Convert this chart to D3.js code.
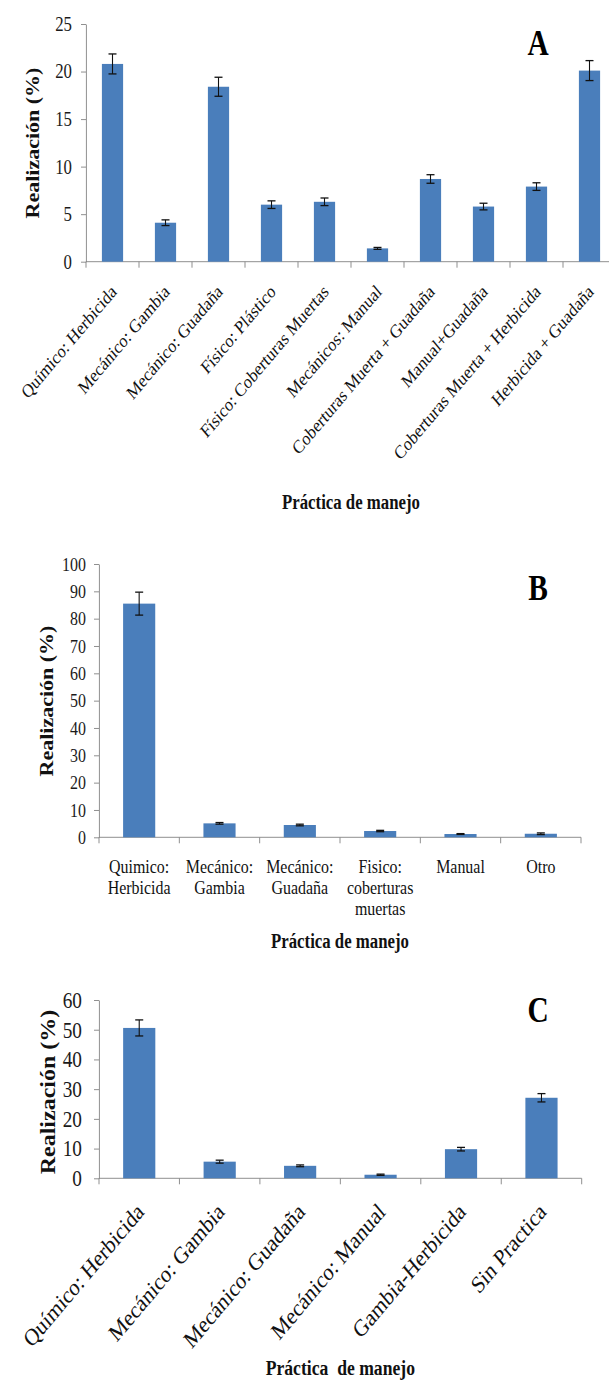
<!DOCTYPE html>
<html>
<head>
<meta charset="utf-8">
<script src="https://cdn.jsdelivr.net/npm/d3@7"></script>
<style>
  body { margin: 0; background: #fff; }
  svg { display: block; }
</style>
</head>
<body>
<svg id="chart" width="609" height="1385"></svg>
<script>
// ---- data ----
var catsA = ["Químico: Herbicida", "Mecánico: Gambia", "Mecánico: Guadaña", "Físico: Plástico",
  "Físico: Coberturas Muertas", "Mecánicos: Manual", "Coberturas Muerta + Guadaña",
  "Manual+Guadaña", "Coberturas Muerta + Herbicida", "Herbicida + Guadaña"];
var valsA = [20.8, 4.1, 18.4, 6.0, 6.3, 1.4, 8.7, 5.8, 7.9, 20.1];
var errA = [1.05, 0.3, 1.0, 0.4, 0.4, 0.1, 0.45, 0.35, 0.4, 1.05];
var ticksA = [0, 5, 10, 15, 20, 25];

var catsB = ["Quimico:\nHerbicida", "Mecánico:\nGambia", "Mecánico:\nGuadaña",
  "Fisico:\ncoberturas\nmuertas", "Manual", "Otro"];
var valsB = [85.5, 5.1, 4.5, 2.3, 1.2, 1.3];
var errB = [4.2, 0.3, 0.3, 0.25, 0.15, 0.3];
var ticksB = [0, 10, 20, 30, 40, 50, 60, 70, 80, 90, 100];

var catsC = ["Químico: Herbicida", "Mecánico: Gambia", "Mecánico: Guadaña",
  "Mecánico: Manual", "Gambia-Herbicida", "Sin Practica"];
var valsC = [50.6, 5.6, 4.2, 1.2, 9.8, 27.1];
var errC = [2.7, 0.5, 0.3, 0.2, 0.6, 1.4];
var ticksC = [0, 10, 20, 30, 40, 50, 60];

// ---- drawing ----
var SX = 0.84;              // the figure is squeezed horizontally
var SERIF = "'Liberation Serif', 'Times New Roman', serif";
var BLUE = '#4a7ebb', GREY = '#868686';

var svg = d3.select('#chart');
var root = svg.append('g').attr('transform', 'scale(' + SX + ',1)');
function ux(v) { return v / SX; }   // page px -> inner px

function panel(p) {
  var g = root.append('g');
  var x = d3.scaleBand().domain(d3.range(p.cats.length)).range([ux(p.left), ux(p.right)]);
  var y = d3.scaleLinear().domain([0, p.max]).range([p.y0, p.yTop]);

  // y axis
  var ga = g.append('g')
    .attr('transform', 'translate(' + ux(p.left) + ',0)')
    .call(d3.axisLeft(y).tickValues(p.ticks).tickSize(ux(5)).tickPadding(ux(p.pad)).tickSizeOuter(0));
  ga.attr('font-family', SERIF).attr('font-size', p.tickFont);
  ga.select('.domain').attr('stroke', GREY);
  ga.selectAll('.tick line').attr('stroke', GREY);
  ga.selectAll('.tick text').attr('fill', '#1a1a1a');

  // x axis line + ticks between categories
  g.append('line')
    .attr('x1', x.range()[0]).attr('x2', x.range()[1])
    .attr('y1', p.y0).attr('y2', p.y0)
    .attr('stroke', GREY);
  var bounds = x.domain().map(function (d) { return x(d); }).concat([x.range()[1]]);
  g.selectAll('.xt').data(bounds).enter().append('line')
    .attr('x1', function (d) { return d; }).attr('x2', function (d) { return d; })
    .attr('y1', p.y0).attr('y2', p.y0 + 6)
    .attr('stroke', GREY);

  // bars
  var bw = x.bandwidth() * 0.4;
  g.selectAll('.bar').data(p.vals).enter().append('rect')
    .attr('x', function (d, i) { return x(i) + (x.bandwidth() - bw) / 2; })
    .attr('y', function (d) { return y(d); })
    .attr('width', bw)
    .attr('height', function (d) { return y(0) - y(d); })
    .attr('fill', BLUE);

  // error bars
  var cap = ux(4);
  var eb = g.selectAll('.err').data(p.vals).enter().append('g')
    .attr('stroke', '#111').attr('stroke-width', 1.3);
  eb.append('line')
    .attr('x1', function (d, i) { return x(i) + x.bandwidth() / 2; })
    .attr('x2', function (d, i) { return x(i) + x.bandwidth() / 2; })
    .attr('y1', function (d, i) { return y(d + p.errs[i]); })
    .attr('y2', function (d, i) { return y(d - p.errs[i]); });
  [1, -1].forEach(function (s) {
    eb.append('line')
      .attr('x1', function (d, i) { return x(i) + x.bandwidth() / 2 - cap; })
      .attr('x2', function (d, i) { return x(i) + x.bandwidth() / 2 + cap; })
      .attr('y1', function (d, i) { return y(d + s * p.errs[i]); })
      .attr('y2', function (d, i) { return y(d + s * p.errs[i]); });
  });

  // category labels
  if (p.rotate) {
    g.selectAll('.cl').data(p.cats).enter().append('text')
      .attr('transform', function (d, i) {
        return 'translate(' + (x(i) + x.bandwidth() / 2 + p.ldx) + ',' + (p.y0 + p.ldy) + ') rotate(-45)';
      })
      .attr('text-anchor', 'end')
      .attr('font-family', SERIF).attr('font-size', p.catFont).attr('fill', '#111')
      .text(function (d) { return d; });
  } else {
    var ct = g.selectAll('.cl').data(p.cats).enter().append('text')
      .attr('text-anchor', 'middle')
      .attr('font-family', SERIF).attr('font-size', p.catFont).attr('fill', '#111');
    ct.each(function (d, i) {
      var t = d3.select(this);
      d.split('\n').forEach(function (line, k) {
        t.append('tspan')
          .attr('x', x(i) + x.bandwidth() / 2)
          .attr('y', p.lab0 + k * p.lineH)
          .text(line);
      });
    });
  }

  // y title
  g.append('text')
    .attr('transform', 'translate(' + ux(p.yTitleX) + ',' + p.yTitleY + ') rotate(-90)')
    .attr('text-anchor', 'middle')
    .attr('font-family', SERIF).attr('font-weight', 'bold').attr('font-size', p.yTitleSize)
    .attr('fill', '#111')
    .text('Realización (%)');

  // x title
  g.append('text')
    .attr('x', (x.range()[0] + Math.min(x.range()[1], ux(p.right))) / 2)
    .attr('y', p.xTitleY)
    .attr('text-anchor', 'middle')
    .attr('font-family', SERIF).attr('font-weight', 'bold').attr('font-size', p.xTitleSize)
    .attr('fill', '#111')
    .style('white-space', 'pre')
    .text(p.xTitle);

  // panel letter
  g.append('text')
    .attr('x', ux(538)).attr('y', p.letterY)
    .attr('text-anchor', 'middle')
    .attr('font-family', SERIF).attr('font-weight', 'bold').attr('font-size', 35)
    .attr('fill', '#000')
    .text(p.letter);
}

panel({
  cats: catsA, vals: valsA, errs: errA, ticks: ticksA, max: 25,
  left: 86, right: 616, y0: 261.7, yTop: 24, pad: 9, tickFont: 20,
  rotate: true, catFont: 19, ldx: 6, ldy: 31,
  yTitleX: 39, yTitleY: 143, yTitleSize: 22,
  xTitle: 'Práctica de manejo', xTitleY: 509, xTitleSize: 20,
  letter: 'A', letterY: 55
});

panel({
  cats: catsB, vals: valsB, errs: errB, ticks: ticksB, max: 100,
  left: 99, right: 581, y0: 837.3, yTop: 564, pad: 8, tickFont: 19,
  rotate: false, catFont: 19, lab0: 873, lineH: 21,
  yTitleX: 53, yTitleY: 701, yTitleSize: 22,
  xTitle: 'Práctica de manejo', xTitleY: 948, xTitleSize: 20,
  letter: 'B', letterY: 600
});

panel({
  cats: catsC, vals: valsC, errs: errC, ticks: ticksC, max: 60,
  left: 99, right: 581.7, y0: 1178.3, yTop: 1000, pad: 12, tickFont: 23,
  rotate: true, catFont: 24, ldx: 7, ldy: 35,
  yTitleX: 55, yTitleY: 1092, yTitleSize: 24,
  xTitle: 'Práctica  de manejo', xTitleY: 1375, xTitleSize: 21,
  letter: 'C', letterY: 1022
});
</script>
</body>
</html>
